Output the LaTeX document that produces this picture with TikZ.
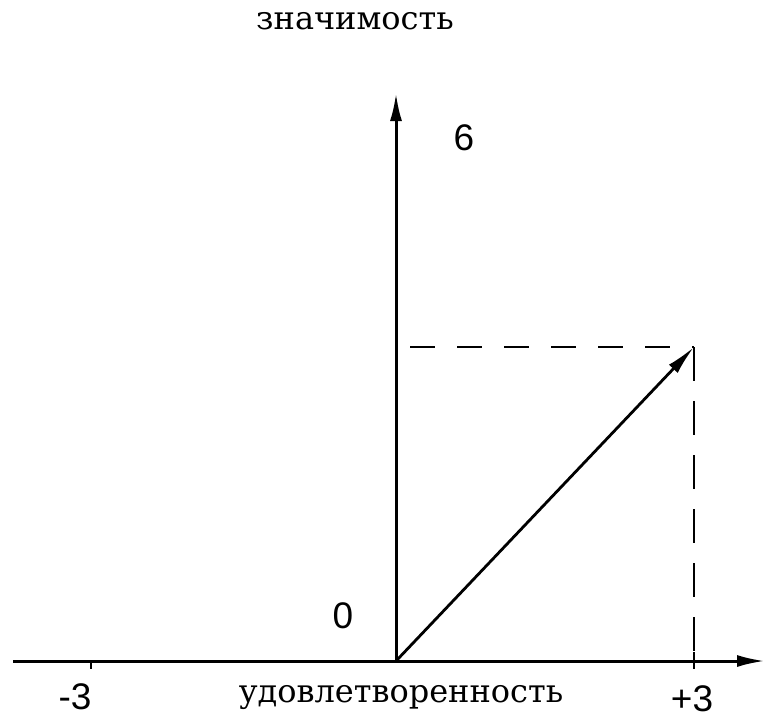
\documentclass[tikz,border=0pt]{standalone}
\usepackage{fontspec}
\usetikzlibrary{arrows.meta}
\newfontfamily\twfont{DejaVu Serif}
\newfontfamily\digfont{Liberation Sans}
\begin{document}
\begin{tikzpicture}[x=1pt,y=-1pt,
  axis/.style={line width=3pt,-{Latex[length=28pt,width=12pt]}},
  vec/.style={line width=2.8pt,-{Latex[length=30pt,width=12pt]}},
  dashline/.style={line width=2.4pt,dash pattern=on 25pt off 22pt},
  tick/.style={line width=2.4pt},
  twlabel/.style={inner sep=0pt,font=\twfont\fontsize{32}{32}\selectfont},
  diglabel/.style={inner sep=0pt,font=\digfont\fontsize{37}{37}\selectfont}]
\useasboundingbox (0,0) rectangle (765,724);
\coordinate (O) at (396,661);
\coordinate (xs) at (13,661);
\coordinate (xe) at (765,661);
\coordinate (ye) at (396,93);
\coordinate (P) at (694,347);
\coordinate (Ph) at (410,347);
\coordinate (Pv) at (694,661);
\coordinate (tm) at (91,661);
\coordinate (tmb) at (91,669);
\coordinate (tpt) at (694,652);
\coordinate (tpb) at (694,669);
\draw[axis] (xs) -- (xe);
\draw[axis] (O) -- (ye);
\draw[vec] (O) -- (P);
\draw[dashline] (Ph) -- (P);
\draw[dashline,dash pattern=on 34pt off 20pt] (P) -- (Pv);
\draw[tick] (tm) -- (tmb);
\draw[tick] (tpt) -- (tpb);
\node[twlabel] (title) at (355,21) {значимость};
\node[twlabel] (xlabel) at (401,698) {удовлетворенность};
\node[diglabel] (six) at (464,138) {6};
\node[diglabel] (zero) at (343,616) {0};
\node[diglabel] (m3) at (75,697) {-3};
\node[diglabel] (p3) at (692,699) {+3};
\end{tikzpicture}
\end{document}
